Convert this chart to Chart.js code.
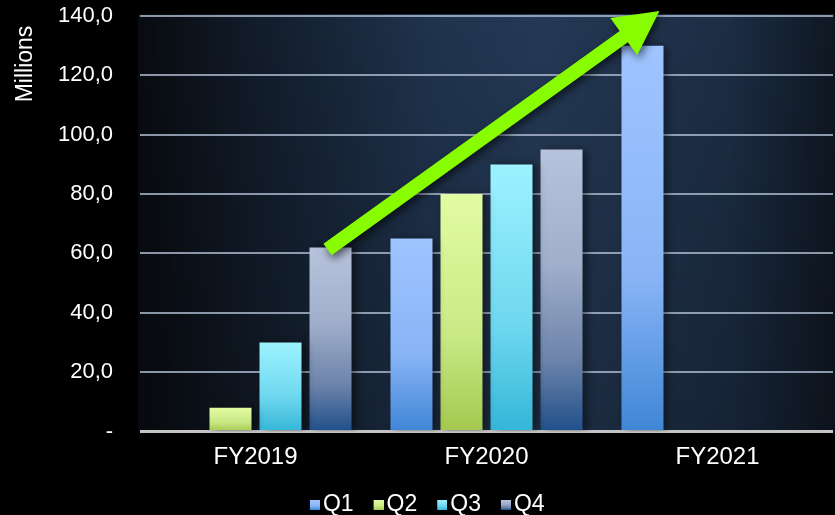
<!DOCTYPE html>
<html>
<head>
<meta charset="utf-8">
<script src="https://cdn.jsdelivr.net/npm/chart.js@4.4.1/dist/chart.umd.min.js"></script>
<style>
  html, body { margin: 0; padding: 0; background: #000; }
  #wrap { width: 835px; height: 515px; position: relative; }
</style>
</head>
<body>
<div id="wrap"><canvas id="c" width="835" height="515"></canvas></div>
<script>
// ---- data ----
const categories = ['FY2019', 'FY2020', 'FY2021'];
const seriesNames = ['Q1', 'Q2', 'Q3', 'Q4'];
const q1Values = [null, 65, 130];
const q2Values = [8, 80, null];
const q3Values = [30, 90, null];
const q4Values = [62, 95, null];
const yTickValues = [0, 20, 40, 60, 80, 100, 120, 140];
const yAxisTitle = 'Millions';

// ---- styles ----
const gradStops = [
  [[0, '#9fc5ff'], [0.6, '#88b4f6'], [1, '#3f86d6']],
  [[0, '#e2fca2'], [0.6, '#c9e985'], [1, '#a4c84e']],
  [[0, '#9cf2ff'], [0.6, '#6fd8ef'], [1, '#34b6d8']],
  [[0, '#b7c3dc'], [0.4, '#a1afcb'], [0.75, '#6c83aa'], [1, '#1f4f8a']]
];
const FONT = '"Liberation Sans", Arial, Helvetica, sans-serif';

function barGradient(c, i) {
  const chart = c.chart;
  const stops = gradStops[i];
  if (!chart.chartArea || c.raw == null || !chart.scales.y) return stops[0][1];
  const ys = chart.scales.y;
  const top = ys.getPixelForValue(c.raw);
  const bottom = ys.getPixelForValue(0);
  const g = chart.ctx.createLinearGradient(0, top, 0, bottom);
  stops.forEach(s => g.addColorStop(s[0], s[1]));
  return g;
}

function legendSwatch(i) {
  const cv = document.createElement('canvas');
  cv.width = 18; cv.height = 10;
  const x = cv.getContext('2d');
  const g = x.createLinearGradient(0, 0, 0, 10);
  gradStops[i].forEach(s => g.addColorStop(s[0], s[1]));
  x.fillStyle = g;
  x.fillRect(8, 0, 10, 10);
  return cv;
}

const valueLists = [q1Values, q2Values, q3Values, q4Values];
const datasets = seriesNames.map((name, i) => ({
  label: name,
  data: valueLists[i],
  backgroundColor: (c) => barGradient(c, i),
  borderWidth: 0,
  barPercentage: 0.84,
  categoryPercentage: 0.866,
  pointStyle: legendSwatch(i)
}));

const bgPlugin = {
  id: 'bg',
  beforeDraw(chart) {
    const { ctx, chartArea: a, width, height } = chart;
    ctx.save();
    ctx.fillStyle = '#000';
    ctx.fillRect(0, 0, width, height);
    const left = a.left - 2, right = width, top = a.top - 2, bottom = a.bottom + 1;
    const g = ctx.createLinearGradient(left, 0, right, 0);
    g.addColorStop(0, '#080b10');
    g.addColorStop(0.15, '#111a27');
    g.addColorStop(0.42, '#1f334d');
    g.addColorStop(0.58, '#243955');
    g.addColorStop(0.85, '#1c2d44');
    g.addColorStop(1, '#0f1722');
    ctx.fillStyle = g;
    ctx.fillRect(left, top, right - left, bottom - top);
    const v = ctx.createLinearGradient(0, top, 0, bottom);
    v.addColorStop(0, 'rgba(0,0,0,0)');
    v.addColorStop(1, 'rgba(0,0,0,0.22)');
    ctx.fillStyle = v;
    ctx.fillRect(left, top, right - left, bottom - top);
    ctx.restore();
  },
  beforeDatasetsDraw(chart) {
    const ctx = chart.ctx;
    ctx.save();
    ctx.shadowColor = 'rgba(0,0,0,0.45)';
    ctx.shadowBlur = 8;
    ctx.shadowOffsetX = 4;
    ctx.shadowOffsetY = 0;
  },
  afterDatasetsDraw(chart) {
    chart.ctx.restore();
  }
};

// trend arrow annotation, anchored to the FY2019 Q4 bar and the top of the axis
const arrowPlugin = {
  id: 'trendArrow',
  afterDraw(chart) {
    const ctx = chart.ctx;
    const startBar = chart.getDatasetMeta(3).data[0];
    const endBar = chart.getDatasetMeta(0).data[2];
    const ys = chart.scales.y;
    const sx = startBar.x - 3, sy = startBar.y + 2;
    const tx = endBar.x + 17, ty = ys.getPixelForValue(140) - 5;
    const dx = tx - sx, dy = ty - sy, L = Math.hypot(dx, dy);
    const ux = dx / L, uy = dy / L, nx = -uy, ny = ux;
    const head = 44, hw = 23, sw = 7;
    const bx = tx - ux * head, by = ty - uy * head;
    ctx.save();
    ctx.shadowColor = 'rgba(0,0,0,0.6)';
    ctx.shadowBlur = 8;
    ctx.shadowOffsetX = 2;
    ctx.shadowOffsetY = 4;
    ctx.fillStyle = '#88fc00';
    ctx.beginPath();
    ctx.moveTo(sx + nx * sw, sy + ny * sw);
    ctx.lineTo(bx + nx * sw, by + ny * sw);
    ctx.lineTo(bx + nx * hw, by + ny * hw);
    ctx.lineTo(tx, ty);
    ctx.lineTo(bx - nx * hw, by - ny * hw);
    ctx.lineTo(bx - nx * sw, by - ny * sw);
    ctx.lineTo(sx - nx * sw, sy - ny * sw);
    ctx.closePath();
    ctx.fill();
    ctx.restore();
  }
};

const titlePlugin = {
  id: 'yTitle',
  afterDraw(chart) {
    const ctx = chart.ctx;
    ctx.save();
    ctx.translate(26, 64);
    ctx.rotate(-Math.PI / 2);
    ctx.fillStyle = '#ffffff';
    ctx.font = '23px ' + FONT;
    ctx.textAlign = 'center';
    ctx.textBaseline = 'middle';
    ctx.fillText(yAxisTitle, 0, 0);
    ctx.restore();
  }
};

new Chart(document.getElementById('c'), {
  type: 'bar',
  data: { labels: categories, datasets },
  plugins: [bgPlugin, arrowPlugin, titlePlugin],
  options: {
    responsive: false,
    animation: false,
    devicePixelRatio: 1,
    layout: { padding: { left: 22, right: 2, top: 16, bottom: 0 } },
    plugins: {
      tooltip: { enabled: false },
      legend: {
        position: 'bottom',
        maxHeight: 42,
        labels: {
          usePointStyle: true,
          pointStyleWidth: 1,
          padding: 20.5,
          color: '#ffffff',
          font: { family: FONT, size: 23 },
          generateLabels(chart) {
            return chart.data.datasets.map((d, i) => ({
              text: d.label,
              pointStyle: d.pointStyle,
              fillStyle: 'rgba(0,0,0,0)',
              strokeStyle: 'rgba(0,0,0,0)',
              lineWidth: 0,
              fontColor: '#ffffff',
              datasetIndex: i,
              hidden: false
            }));
          }
        }
      }
    },
    scales: {
      x: {
        grid: { display: false, drawTicks: false },
        border: { display: false },
        ticks: { color: '#ffffff', padding: 11, font: { family: FONT, size: 24 } },
        afterFit(scale) { scale.height = 41.5; }
      },
      y: {
        min: 0,
        max: 140,
        border: { display: false },
        afterBuildTicks(scale) { scale.ticks = yTickValues.map(v => ({ value: v })); },
        afterFit(scale) { scale.width = 118; },
        grid: {
          drawTicks: true,
          tickLength: 27,
          tickColor: 'rgba(0,0,0,0)',
          color: (c) => c.tick && c.tick.value === 0 ? '#c4c4c4' : 'rgba(175,190,210,0.78)',
          lineWidth: (c) => c.tick && c.tick.value === 0 ? 3 : 2
        },
        ticks: {
          color: '#ffffff',
          padding: 0,
          font: { family: FONT, size: 22 },
          callback: (v) => v === 0 ? '-' : v.toFixed(1).replace('.', ',')
        }
      }
    }
  }
});
</script>
</body>
</html>
